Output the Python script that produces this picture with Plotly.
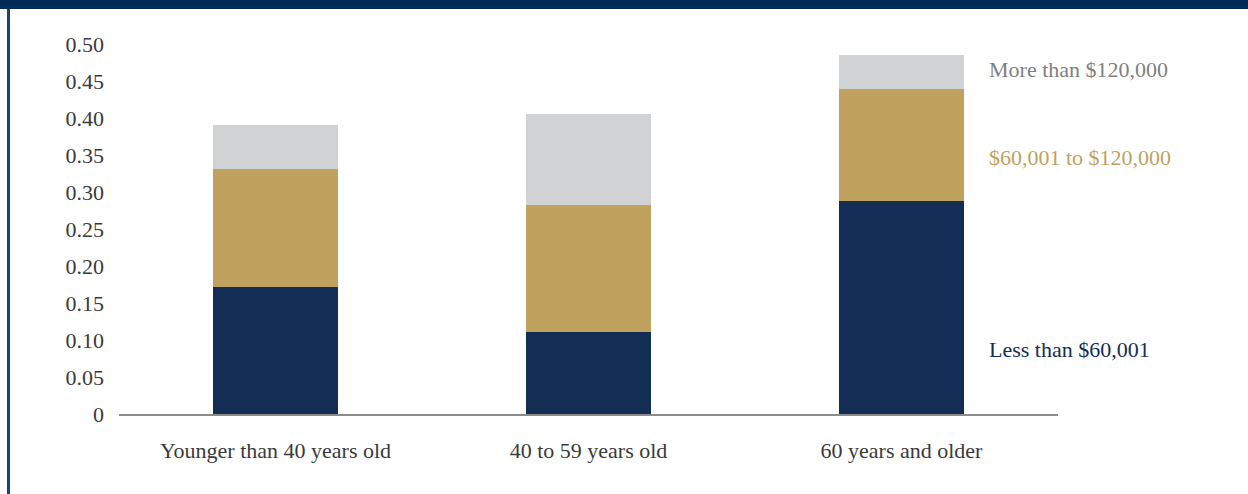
import plotly.graph_objects as go

categories = ["Younger than 40 years old", "40 to 59 years old", "60 years and older"]
less_60k = [0.172, 0.111, 0.288]
mid_60_120k = [0.159, 0.172, 0.151]
more_120k = [0.059, 0.123, 0.046]

series_names = ["Less than $60,001", "$60,001 to $120,000", "More than $120,000"]
series_colors = ["#142D55", "#C0A25E", "#D1D2D4"]
label_colors = ["#142D55", "#C0A25E", "#7F7F7F"]
label_y = [0.0865, 0.346, 0.466]

tick_vals = [0, 0.05, 0.10, 0.15, 0.20, 0.25, 0.30, 0.35, 0.40, 0.45, 0.50]
tick_text = ["0", "0.05", "0.10", "0.15", "0.20", "0.25", "0.30", "0.35", "0.40", "0.45", "0.50"]

FONT = "Liberation Serif"
FS = 22
L, R, T, B = 119, 190, 44, 80
W, H = 1248, 494
PW, PH = W - L - R, H - T - B

fig = go.Figure()
for name, vals, col in zip(series_names, [less_60k, mid_60_120k, more_120k], series_colors):
    fig.add_trace(go.Bar(x=categories, y=vals, name=name, marker=dict(color=col, line=dict(width=0)),
                         hoverinfo="x+y+name"))

for name, yv, col in zip(series_names, label_y, label_colors):
    fig.add_annotation(x=(987 - L) / PW, xref="paper", y=yv, yref="y", text=name, showarrow=False,
                       xanchor="left", yanchor="middle", font=dict(family=FONT, size=FS, color=col))

# frame: top navy band and thin left rule
fig.add_shape(type="rect", xref="paper", yref="paper", x0=-0.14, x1=1.22, y0=(H - B - 9) / PH, y1=1.13,
              fillcolor="#002B57", line=dict(width=0), layer="above")
fig.add_shape(type="rect", xref="paper", yref="paper", x0=(7 - L) / PW, x1=(10 - L) / PW,
              y0=-0.23, y1=(H - B - 9) / PH, fillcolor="#1B4472", line=dict(width=0), layer="above")

fig.update_layout(
    barmode="stack",
    bargap=0.6,
    width=W, height=H,
    margin=dict(l=L, r=R, t=T, b=B),
    paper_bgcolor="white", plot_bgcolor="white",
    showlegend=False,
    font=dict(family=FONT, size=FS, color="#3A3A3A"),
    xaxis=dict(showline=True, linecolor="#8C8C8C", linewidth=2, showgrid=False, ticks="",
               ticklabelstandoff=16, tickfont=dict(family=FONT, size=FS, color="#3A3A3A")),
    yaxis=dict(range=[0, 0.5], tickvals=tick_vals, ticktext=tick_text, showgrid=False,
               zeroline=False, showline=False, ticks="", ticklabelstandoff=14,
               tickfont=dict(family=FONT, size=FS, color="#3A3A3A")),
)

fig.write_html("out.html")
